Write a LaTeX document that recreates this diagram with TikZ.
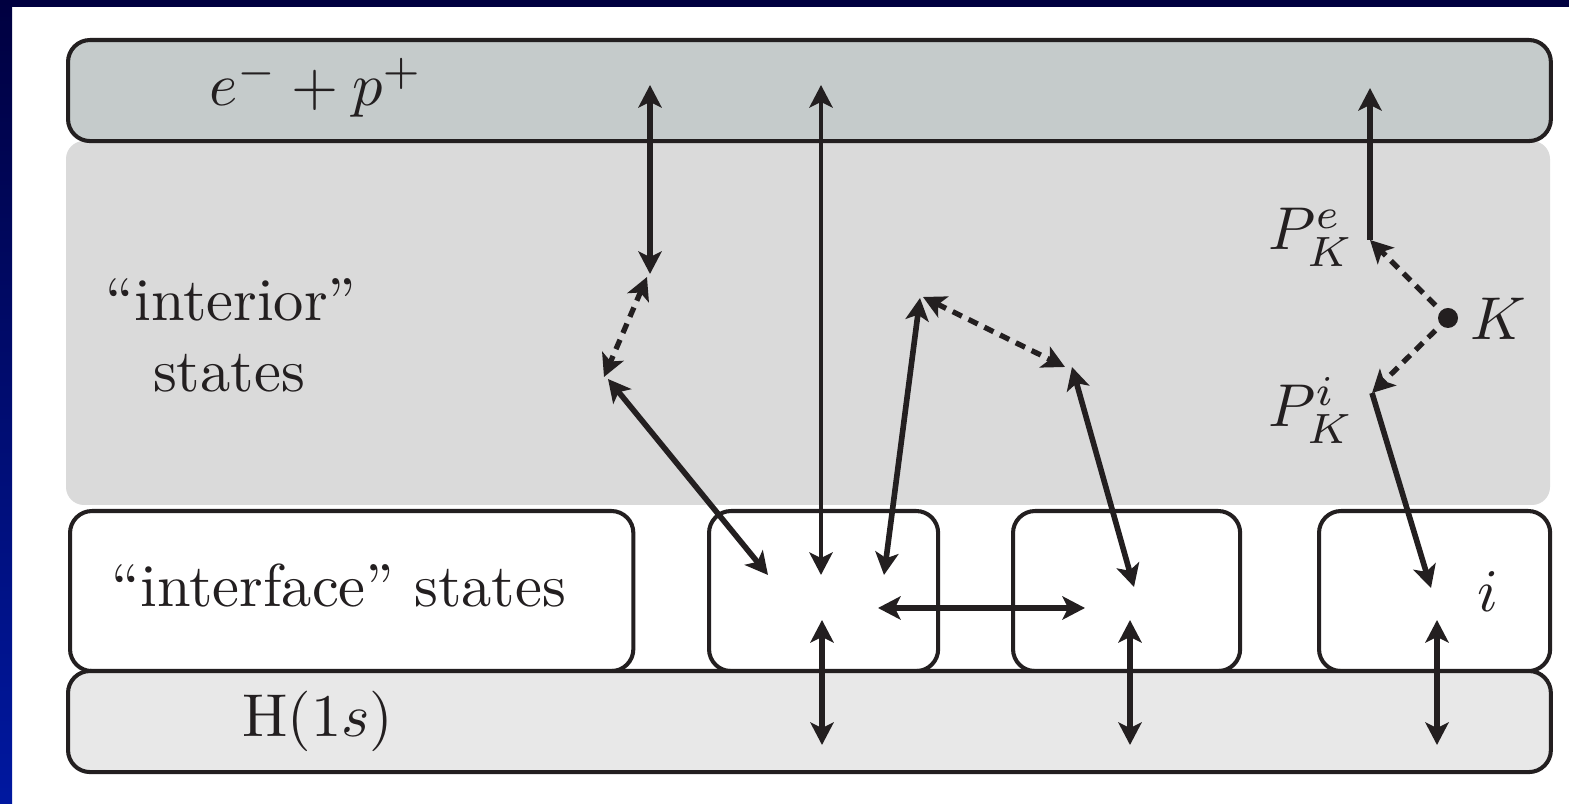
\documentclass[tikz,border=0pt]{standalone}
\usetikzlibrary{arrows.meta}

\definecolor{ink}{RGB}{35,31,32}
\definecolor{ionized}{RGB}{197,203,203}
\definecolor{interiorgrey}{RGB}{218,218,218}
\definecolor{groundgrey}{RGB}{232,232,232}
\definecolor{navy}{RGB}{0,0,64}
\definecolor{royal}{RGB}{0,24,160}

\tikzset{
  >={Stealth[length=6.4pt,width=6.6pt,inset=1.6pt]},
  band/.style={draw=ink, line width=1.15pt, rounded corners=0.22cm, inner sep=0pt,
               anchor=north west},
  lbl/.style={text=ink, font=\fontsize{10}{12}\selectfont, scale=1.72,
              inner sep=0pt, anchor=base},
  link/.style={draw=ink, line width=1.6pt},
  thinlink/.style={draw=ink, line width=1.15pt},
  dashlink/.style={draw=ink, line width=1.5pt, dash pattern=on 2.9pt off 2.1pt},
}

\begin{document}
\begin{tikzpicture}[x=0.01cm,y=-0.01cm]
\useasboundingbox (0,0) rectangle (1569,804);
% page frame
\fill[white] (0,0) rectangle (1569,804);
\fill[navy] (0,0) rectangle (1569,7);
\shade[top color=navy, bottom color=royal] (0,0) rectangle (12,804);

% layers
\fill[interiorgrey, rounded corners=0.18cm] (66,141) rectangle (1550,505);
\node[band, fill=ionized, minimum width=14.82cm, minimum height=1.01cm] (ion) at (66,38) {};
\node[band, fill=white, minimum width=5.63cm, minimum height=1.6cm] (iface) at (68,509) {};
\node[band, fill=white, minimum width=2.29cm, minimum height=1.6cm] (boxA) at (707,509) {};
\node[band, fill=white, minimum width=2.27cm, minimum height=1.6cm] (boxB) at (1011,509) {};
\node[band, fill=white, minimum width=2.31cm, minimum height=1.6cm] (boxC) at (1317,509) {};
\node[band, fill=groundgrey, minimum width=14.82cm, minimum height=1.01cm] (gnd) at (66,669) {};

% labels
\node[lbl] (epl) at (316,106) {$e^- + p^+$};
\node[lbl] (int1) at (231,321) {\textquotedblleft interior\textquotedblright};
\node[lbl] (int2) at (229,392) {states};
\node[lbl] (ifl) at (339,607) {\textquotedblleft interface\textquotedblright\ states};
\node[lbl] (h1s) at (318,737) {$\mathrm{H}(1s)$};
\node[lbl] (pke) at (1311,250) {$P_K^e$};
\node[lbl] (pki) at (1311,427) {$P_K^i$};
\node[lbl] (kl) at (1498,340) {$K$};
\node[lbl] (il) at (1488,612) {$i$};

% transition end points
\coordinate (a1) at (650,85);
\coordinate (a2) at (650,274);
\coordinate (a3) at (647,277);
\coordinate (a4) at (604,377);
\coordinate (a5) at (608,379);
\coordinate (a6) at (768,575);
\coordinate (b1) at (821,85);
\coordinate (b2) at (821,575);
\coordinate (c1) at (920,298);
\coordinate (c2) at (884,575);
\coordinate (c3) at (923,297);
\coordinate (c4) at (1065,367);
\coordinate (d1) at (1072,367);
\coordinate (d2) at (1134,587);
\coordinate (h1) at (878,608);
\coordinate (h2) at (1085,608);
\coordinate (g1a) at (822,620);
\coordinate (g1b) at (822,745);
\coordinate (g2a) at (1130,620);
\coordinate (g2b) at (1130,745);
\coordinate (g3a) at (1437,620);
\coordinate (g3b) at (1437,745);
\coordinate (pe) at (1370,240);
\coordinate (pet) at (1370,88);
\coordinate (pi) at (1372,393);
\coordinate (pib) at (1431,588);
\node[circle, fill=ink, inner sep=0pt, minimum size=0.2cm] (K) at (1448,318) {};

% transitions
\draw[link, <->] (a1) -- (a2);
\draw[dashlink, <->] (a3) -- (a4);
\draw[link, <->] (a5) -- (a6);
\draw[thinlink, <->] (b1) -- (b2);
\draw[link, <->] (c1) -- (c2);
\draw[dashlink, <->] (c3) -- (c4);
\draw[link, <->] (d1) -- (d2);
\draw[link, <->] (h1) -- (h2);
\draw[link, <->] (g1a) -- (g1b);
\draw[link, <->] (g2a) -- (g2b);
\draw[link, <->] (g3a) -- (g3b);
\draw[link, ->] (pe) -- (pet);
\draw[dashlink, ->, shorten <=2pt] (K) -- (pe);
\draw[dashlink, ->, shorten <=2pt] (K) -- (pi);
\draw[link, ->] (pi) -- (pib);
\end{tikzpicture}
\end{document}
